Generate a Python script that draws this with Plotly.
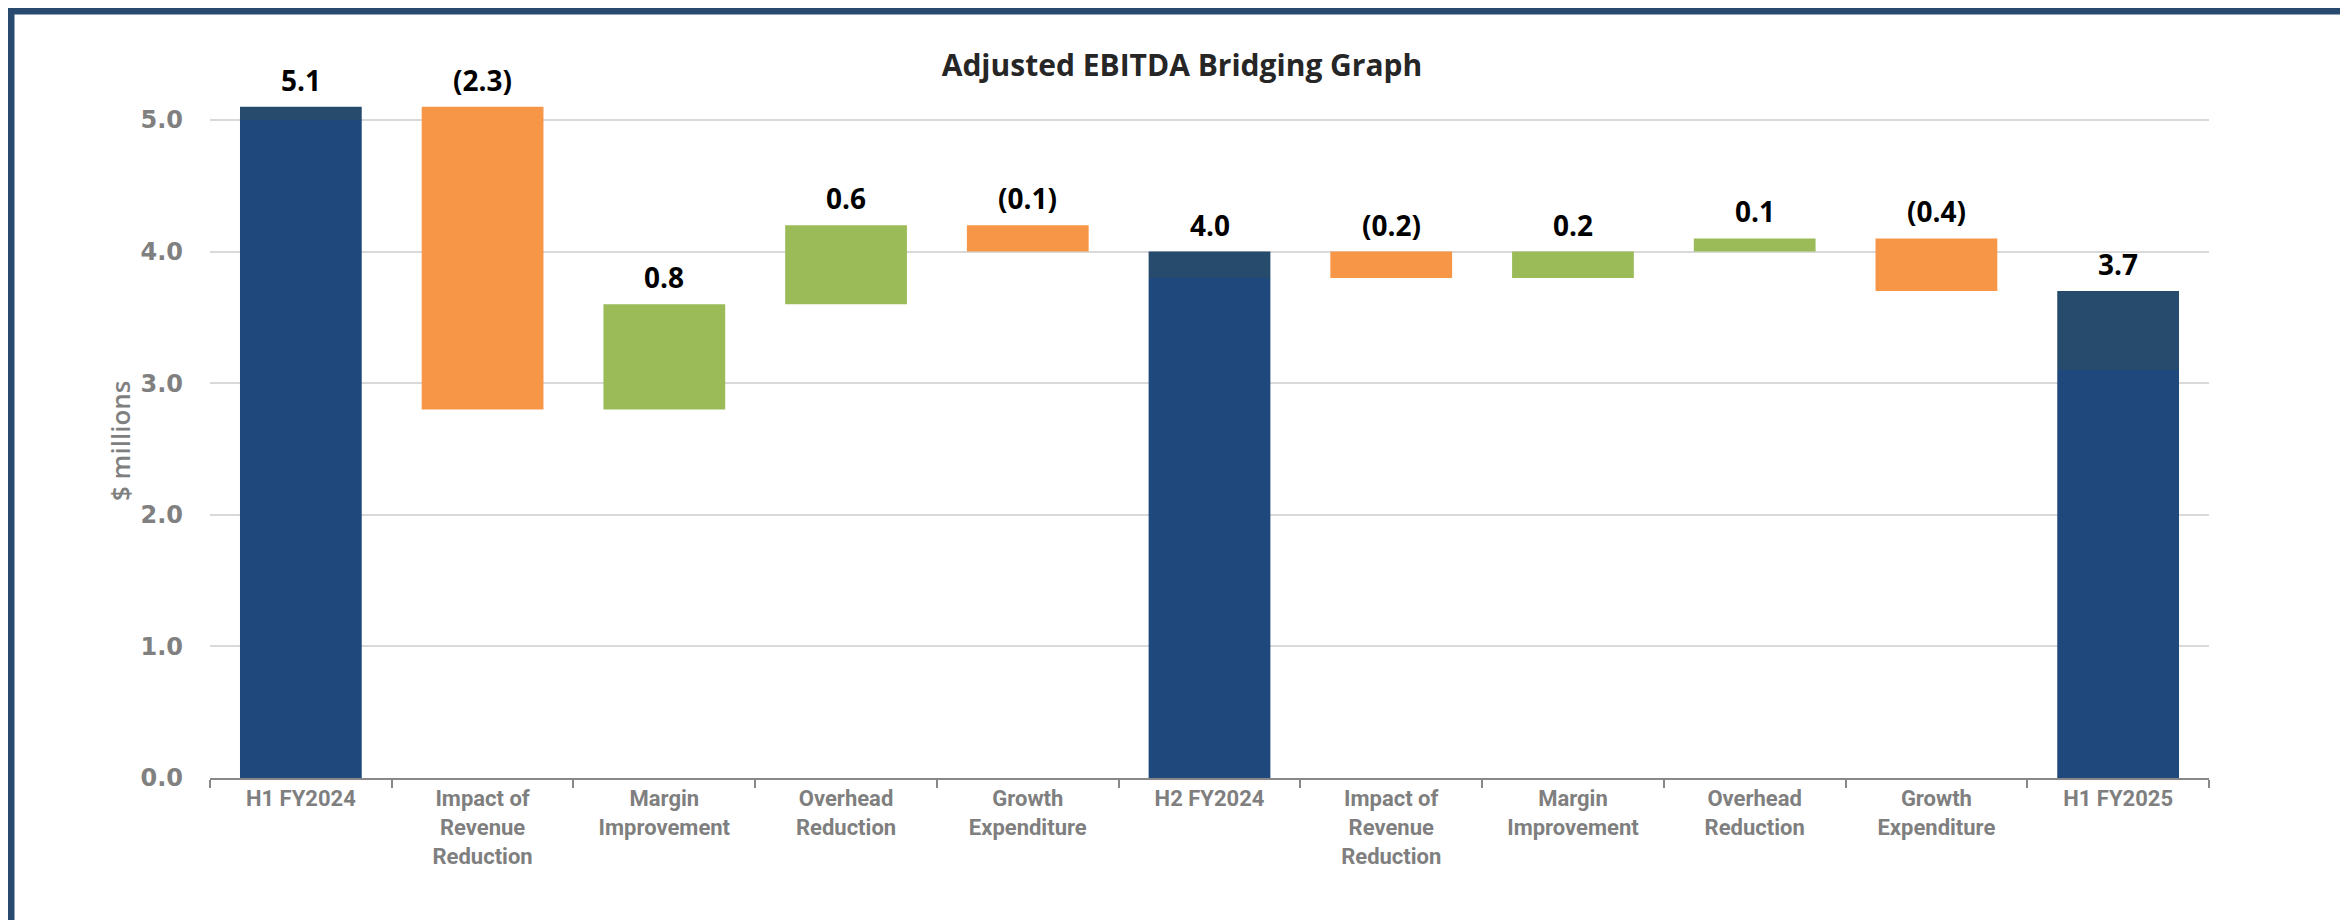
import plotly.graph_objects as go

# bridge steps, in $ millions
tick_labels = ["H1 FY2024", "Impact of<br>Revenue<br>Reduction", "Margin<br>Improvement",
               "Overhead<br>Reduction", "Growth<br>Expenditure", "H2 FY2024",
               "Impact of<br>Revenue<br>Reduction", "Margin<br>Improvement",
               "Overhead<br>Reduction", "Growth<br>Expenditure", "H1 FY2025"]
is_total = [True, False, False, False, False, True, False, False, False, False, True]
values = [5.1, -2.3, 0.8, 0.6, -0.2, 4.0, -0.2, 0.2, 0.1, -0.4, 3.7]
label_text = ["5.1", "(2.3)", "0.8", "0.6", "(0.1)", "4.0", "(0.2)", "0.2", "0.1", "(0.4)", "3.7"]
# darker top slice shown on each total bar
total_caps = [0.1, 0.2, 0.6]

NAVY = "#1F497D"
CAP = "#264B6C"
ORANGE = "#F79646"
GREEN = "#9BBB59"
BORDER = "#284A6E"

W, H = 2348, 920
mar = dict(l=202, r=147, t=60, b=150)
pw = W - mar["l"] - mar["r"]
ph = H - mar["t"] - mar["b"]

def px_x(px):
    return (px - mar["l"]) / pw

def px_y(py):
    return (H - mar["b"] - py) / ph

# unique category keys (labels repeat)
keys = ["c%d" % i for i in range(len(values))]
tot_x, tot_base, tot_h, cap_base, cap_h = [], [], [], [], []
up_x, up_base, up_h = [], [], []
dn_x, dn_base, dn_h = [], [], []
tops = []
level = 0.0
ci = 0
for i, v in enumerate(values):
    k = keys[i]
    if is_total[i]:
        level = v
        c = total_caps[ci]
        ci += 1
        tot_x.append(k); tot_base.append(0); tot_h.append(v - c)
        cap_base.append(v - c); cap_h.append(c)
        tops.append(v)
    else:
        lo = min(level, level + v)
        hi = max(level, level + v)
        if v >= 0:
            up_x.append(k); up_base.append(lo); up_h.append(hi - lo)
        else:
            dn_x.append(k); dn_base.append(lo); dn_h.append(hi - lo)
        tops.append(hi)
        level = level + v

fig = go.Figure()
fig.add_trace(go.Bar(x=tot_x, y=tot_h, base=tot_base, marker_color=NAVY, marker_line_width=0))
fig.add_trace(go.Bar(x=tot_x, y=cap_h, base=cap_base, marker_color=CAP, marker_line_width=0))
fig.add_trace(go.Bar(x=up_x, y=up_h, base=up_base, marker_color=GREEN, marker_line_width=0))
fig.add_trace(go.Bar(x=dn_x, y=dn_h, base=dn_base, marker_color=ORANGE, marker_line_width=0))

for i, t in enumerate(tops):
    fig.add_annotation(x=keys[i], y=t, text=label_text[i], showarrow=False, yanchor="bottom", yshift=6,
                       font=dict(family="Open Sans", size=28, color="#000000", weight=700))

# y axis title
fig.add_annotation(xref="paper", yref="paper", x=px_x(112), y=px_y(433), text="$ millions",
                   textangle=-90, showarrow=False, xanchor="center", yanchor="middle",
                   font=dict(family="Open Sans", size=26, color="#7F7F7F", weight=600))

# frame around the whole chart
fig.add_shape(type="rect", xref="paper", yref="paper",
              x0=px_x(3), x1=px_x(W - 3), y0=px_y(3), y1=px_y(H - 4),
              line=dict(color=BORDER, width=7), layer="above")

fig.update_layout(
    width=W, height=H, margin=mar,
    barmode="overlay", bargap=0.33, showlegend=False,
    paper_bgcolor="white", plot_bgcolor="white",
    title=dict(text="<b>Adjusted EBITDA Bridging Graph</b>", x=0.5, xanchor="center",
               y=1 - 57 / H, yanchor="middle",
               font=dict(family="Open Sans", size=30, color="#262626")),
    hovermode=False,
)
fig.update_xaxes(type="category", categoryorder="array", categoryarray=keys,
                 tickvals=keys, ticktext=tick_labels, tickson="boundaries",
                 ticks="outside", ticklen=8, tickcolor="#888888", tickwidth=2,
                 showline=True, linecolor="#888888", linewidth=2, showgrid=False,
                 tickfont=dict(family="Roboto", size=22, color="#7F7F7F", weight=700),
                 range=[-0.5, len(values) - 0.5])
fig.update_yaxes(range=[0, ph / 131.6], tickvals=[0, 1, 2, 3, 4, 5], tickformat=".1f",
                 showgrid=True, gridcolor="#D9D9D9", gridwidth=2, zeroline=False,
                 ticklabelstandoff=26,
                 tickfont=dict(family="DejaVu Sans", size=24, color="#808080", weight=700))

fig.write_html("out.html")
